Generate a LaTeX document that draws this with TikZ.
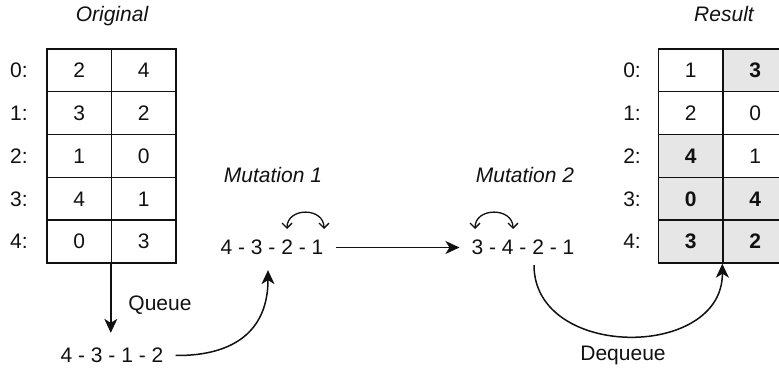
\documentclass[tikz,border=0pt]{standalone}
\usepackage{fontspec}
\setmainfont{Liberation Sans}
\usetikzlibrary{arrows.meta,calc}
\definecolor{cellgray}{HTML}{E6E6E6}
\definecolor{ink}{HTML}{111111}
\begin{document}
\begin{tikzpicture}[x=1pt,y=-1pt,
  every node/.style={font=\fontsize{21}{25}\selectfont, text=ink},
  cell/.style={draw=ink, line width=1.4pt, minimum width=64.5pt, minimum height=42.8pt, inner sep=0pt},
  hot/.style={cell, fill=cellgray, font=\fontsize{21}{25}\selectfont\bfseries},
  title/.style={font=\fontsize{21}{25}\selectfont\itshape, anchor=base},
  label/.style={anchor=base},
  seq/.style={inner xsep=12pt, inner ysep=15pt},
  link/.style={draw=ink, line width=1.5pt, -{Stealth[length=14pt,width=13pt,inset=4pt]}},
  swap/.style={draw=ink, line width=1.3pt, {Straight Barb[length=5pt,width=10pt]}-{Straight Barb[length=5pt,width=10pt]}}
]
\useasboundingbox (0,0) rectangle (779,371);

% headings
\node[title] (horig) at (112,21.5) {Original};
\node[title] (hres)  at (724,21.5) {Result};

% original table
\foreach \a/\b [count=\i from 0] in {2/4,3/2,1/0,4/1,0/3} {
  \node[cell] (o\i0) at (79.25,{70.4+42.8*\i}) {\a};
  \node[cell] (o\i1) at (143.75,{70.4+42.8*\i}) {\b};
  \node (ol\i) at (19,{70.4+42.8*\i}) {\i:};
}

% result table (shaded cells changed by the mutations)
\foreach \i/\sa/\a/\sb/\b in {0/cell/1/hot/3, 1/cell/2/cell/0, 2/hot/4/cell/1, 3/hot/0/hot/4, 4/hot/3/hot/2} {
  \node[\sa] (r\i0) at (690.75,{70.4+42.8*\i}) {\a};
  \node[\sb] (r\i1) at (755.25,{70.4+42.8*\i}) {\b};
  \node (rl\i) at (632,{70.4+42.8*\i}) {\i:};
}

% sequences
\node[seq] (s0) at (112,355.5) {4 - 3 - 1 - 2};
\node[seq] (s1) at (272,247.5) {4 - 3 - 2 - 1};
\node[seq] (s2) at (523,247.5) {3 - 4 - 2 - 1};

\node[title] (m1) at (273,183) {Mutation 1};
\node[title] (m2) at (525,183) {Mutation 2};

\node[label] (lq) at (160,310) {Queue};
\node[label] (ld) at (623,360) {Dequeue};

% connectors
\draw[link] (o41.south west) -- (o41.south west |- s0.north);
\draw[link] (s0.east) .. controls (235,356) and (268,330) .. ([xshift=-4pt]s1.south);
\draw[link] (s1.east) -- (s2.west);
\draw[link] ([xshift=11pt,yshift=5pt]s2.south) .. controls (534,360) and (723,360) .. (r41.south west);

% swapped positions
\coordinate (a1) at (287,229);
\coordinate (b1) at (324,229);
\coordinate (a2) at (475,229);
\coordinate (b2) at (513,229);
\draw[swap] (a1) .. controls (287,207) and (324,207) .. (b1);
\draw[swap] (a2) .. controls (475,207) and (513,207) .. (b2);
\end{tikzpicture}
\end{document}
